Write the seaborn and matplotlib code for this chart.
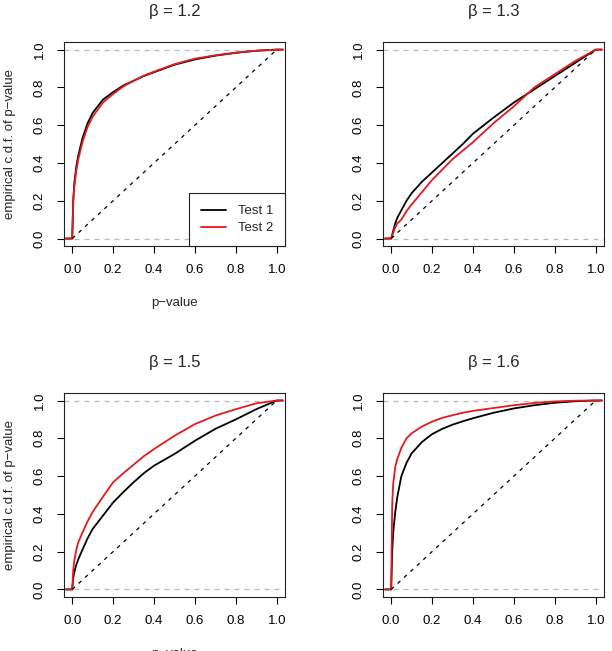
import pandas as pd
import seaborn as sns
import matplotlib.pyplot as plt

sns.set_style("ticks")
plt.rcParams['font.family'] = ['Liberation Sans', 'DejaVu Sans']

# p-value grid and empirical c.d.f. values
pvals = [-0.03, 0, 0.005, 0.01, 0.02, 0.03, 0.05, 0.075, 0.1, 0.15, 0.2, 0.25,
         0.3, 0.35, 0.4, 0.5, 0.6, 0.7, 0.8, 0.9, 1.0, 1.03]

b12_test1 = [0, 0, 0.20, 0.29, 0.38, 0.44, 0.53, 0.61, 0.665, 0.735, 0.775, 0.81,
             0.835, 0.86, 0.88, 0.92, 0.948, 0.968, 0.983, 0.994, 1.0, 1.0]
b12_test2 = [0, 0, 0.19, 0.27, 0.36, 0.42, 0.51, 0.59, 0.645, 0.72, 0.765, 0.805,
             0.835, 0.862, 0.883, 0.923, 0.952, 0.97, 0.984, 0.994, 1.0, 1.0]

b13_test1 = [0, 0, 0.02, 0.04, 0.08, 0.11, 0.15, 0.20, 0.24, 0.30, 0.35, 0.40,
             0.45, 0.50, 0.555, 0.64, 0.72, 0.79, 0.86, 0.93, 1.0, 1.0]
b13_test2 = [0, 0, 0.015, 0.03, 0.06, 0.08, 0.10, 0.145, 0.18, 0.245, 0.31, 0.365,
             0.42, 0.465, 0.51, 0.61, 0.70, 0.80, 0.87, 0.94, 1.0, 1.0]

b15_test1 = [0, 0, 0.06, 0.09, 0.13, 0.16, 0.21, 0.27, 0.32, 0.39, 0.46, 0.515,
             0.567, 0.615, 0.655, 0.717, 0.787, 0.85, 0.90, 0.954, 1.0, 1.0]
b15_test2 = [0, 0, 0.10, 0.15, 0.21, 0.25, 0.30, 0.36, 0.41, 0.49, 0.567, 0.615,
             0.66, 0.705, 0.743, 0.813, 0.875, 0.92, 0.954, 0.985, 1.0, 1.0]

b16_test1 = [0, 0, 0.20, 0.30, 0.41, 0.49, 0.60, 0.67, 0.72, 0.78, 0.822, 0.85,
             0.872, 0.89, 0.906, 0.935, 0.958, 0.975, 0.988, 0.996, 1.0, 1.0]
b16_test2 = [0, 0, 0.45, 0.56, 0.65, 0.69, 0.75, 0.80, 0.826, 0.862, 0.888, 0.908,
             0.922, 0.935, 0.945, 0.96, 0.975, 0.987, 0.995, 0.999, 1.0, 1.0]

diag = [0, 1]
ticks = [0.0, 0.2, 0.4, 0.6, 0.8, 1.0]
tick_labels = ["0.0", "0.2", "0.4", "0.6", "0.8", "1.0"]

panels = [
    ("\u03b2 = 1.2", b12_test1, b12_test2, [0.1046, 0.622, 0.361, 0.3134], True, True),
    ("\u03b2 = 1.3", b13_test1, b13_test2, [0.6258, 0.622, 0.361, 0.3134], False, False),
    ("\u03b2 = 1.5", b15_test1, b15_test2, [0.1046, 0.083, 0.361, 0.3134], True, False),
    ("\u03b2 = 1.6", b16_test1, b16_test2, [0.6258, 0.083, 0.361, 0.3134], False, False),
]

fig = plt.figure(figsize=(6.12, 6.51), dpi=100)

for title, t1, t2, rect, left_col, show_legend in panels:
    ax = fig.add_axes(rect)
    df = pd.DataFrame({"p": pvals + pvals, "cdf": t1 + t2,
                       "test": ["Test 1"] * len(pvals) + ["Test 2"] * len(pvals)})
    sns.lineplot(data=df, x="p", y="cdf", hue="test", sort=False,
                 palette={"Test 1": "black", "Test 2": "#e41a1c"},
                 linewidth=1.3, ax=ax, legend=show_legend)
    # reference lines
    ax.axhline(0, color="#bbbbbb", ls=(0, (4, 4)), lw=0.9, zorder=0)
    ax.axhline(1, color="#bbbbbb", ls=(0, (4, 4)), lw=0.9, zorder=0)
    sns.lineplot(x=diag, y=diag, color="black", ls=(0, (3, 4)), lw=0.9, ax=ax)
    ax.set_xlim(-0.04, 1.04)
    ax.set_ylim(-0.04, 1.04)
    ax.set_xticks(ticks)
    ax.set_xticklabels(tick_labels)
    ax.set_yticks(ticks)
    ax.set_yticklabels(tick_labels, rotation=90, va="center")
    ax.tick_params(direction="out", length=5, width=0.8, pad=8,
                   labelsize=9.5, colors="black")
    for s in ax.spines.values():
        s.set_visible(True)
        s.set_color("#222222")
        s.set_linewidth(0.8)
    ax.set_title(title, fontsize=12, pad=19)
    if left_col:
        ax.set_xlabel("p\u2212value", fontsize=9.5, labelpad=15)
        ax.set_ylabel("empirical c.d.f. of p\u2212value", fontsize=9.5, labelpad=13)
    else:
        ax.set_xlabel("")
        ax.set_ylabel("")
    if show_legend:
        leg = ax.legend(loc="lower right", borderaxespad=0, fancybox=False,
                        edgecolor="#222222", framealpha=1, fontsize=9.5,
                        handlelength=1.9, borderpad=0.9, labelspacing=0.35,
                        handletextpad=0.9)
        leg.get_frame().set_linewidth(0.8)
        leg.set_title(None)

fig.savefig("out.png", dpi=100)
